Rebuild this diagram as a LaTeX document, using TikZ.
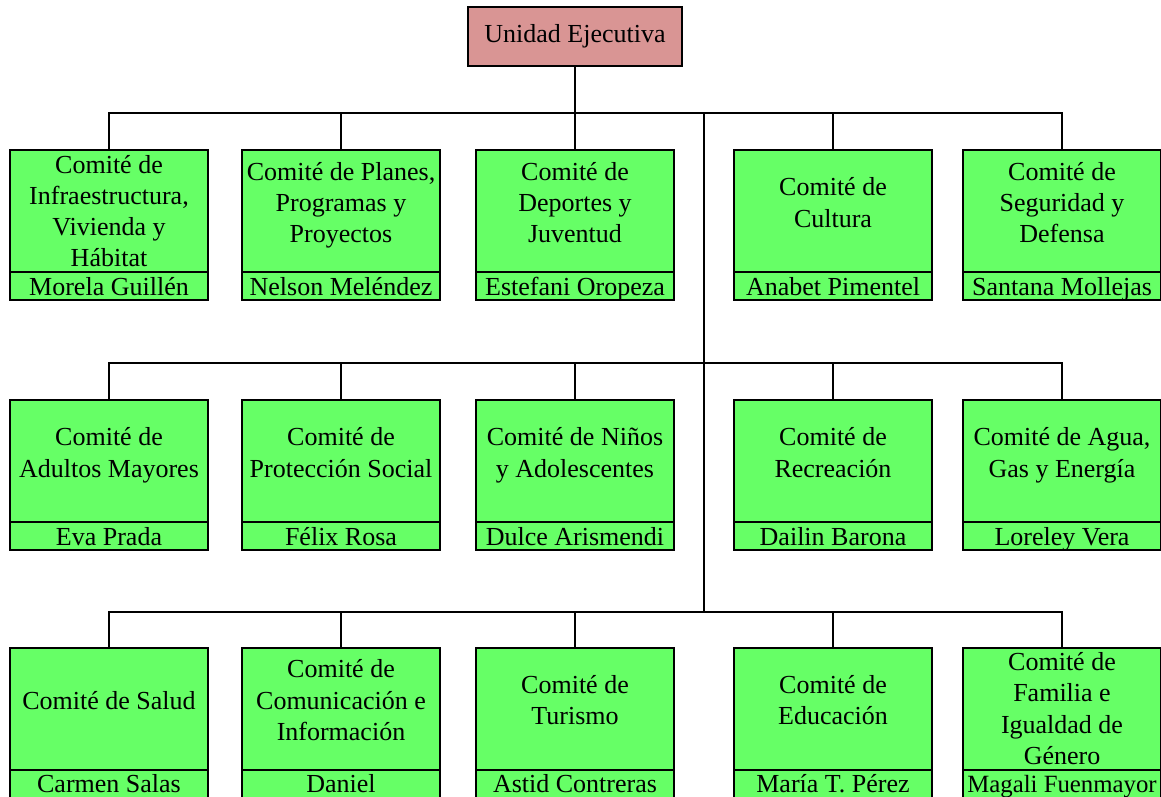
\documentclass[tikz,border=0pt]{standalone}
\usepackage{fontspec}
\setmainfont{Liberation Serif}
\usepackage{tikz}
\usetikzlibrary{positioning}

\definecolor{comite}{RGB}{102,255,102}
\definecolor{unidad}{RGB}{217,149,148}

\tikzset{
  caja/.style={draw, line width=1pt, fill=comite, outer sep=0pt, inner sep=0pt,
    minimum width=99pt, font=\fontsize{13}{15.6}\selectfont},
  titulo/.style={caja, minimum height=61pt, align=center, text depth=8.5pt},
  nombre/.style={caja, minimum height=14pt, text height=11.5pt, text depth=2.5pt},
  linea/.style={line width=0.7pt}
}

\begin{document}
\begin{tikzpicture}[x=0.5pt,y=-0.5pt]

  \useasboundingbox (0,0) rectangle (1161,797);
  \clip (0,0) rectangle (1161,797);

  \node[caja, fill=unidad, minimum width=107pt, minimum height=29.5pt] (ue) at (575,36.5) {Unidad Ejecutiva};

  \node[titulo, text depth=0pt] (c11) at (109,211) {Comité de\\ Infraestructura,\\ Vivienda y\\ Hábitat};
  \node[titulo] (c12) at (341,211) {Comité de Planes,\\ Programas y\\ Proyectos};
  \node[titulo] (c13) at (575,211) {Comité de\\ Deportes y\\ Juventud};
  \node[titulo] (c14) at (833,211) {Comité de\\ Cultura};
  \node[titulo] (c15) at (1062,211) {Comité de\\ Seguridad y\\ Defensa};
  \node[nombre, below=0pt of c11] (n11) {Morela Guillén};
  \node[nombre, below=0pt of c12] (n12) {Nelson Meléndez};
  \node[nombre, below=0pt of c13] (n13) {Estefani Oropeza};
  \node[nombre, below=0pt of c14] (n14) {Anabet Pimentel};
  \node[nombre, below=0pt of c15] (n15) {Santana Mollejas};

  \node[titulo] (c21) at (109,461) {Comité de\\ Adultos Mayores};
  \node[titulo] (c22) at (341,461) {Comité de\\ Protección Social};
  \node[titulo] (c23) at (575,461) {Comité de Niños\\ y Adolescentes};
  \node[titulo] (c24) at (833,461) {Comité de\\ Recreación};
  \node[titulo] (c25) at (1062,461) {Comité de Agua,\\ Gas y Energía};
  \node[nombre, below=0pt of c21] (n21) {Eva Prada};
  \node[nombre, below=0pt of c22] (n22) {Félix Rosa};
  \node[nombre, below=0pt of c23] (n23) {Dulce Arismendi};
  \node[nombre, below=0pt of c24] (n24) {Dailin Barona};
  \node[nombre, below=0pt of c25] (n25) {Loreley Vera};

  \node[titulo] (c31) at (109,708.5) {Comité de Salud};
  \node[titulo] (c32) at (341,708.5) {Comité de\\ Comunicación e\\ Información};
  \node[titulo] (c33) at (575,708.5) {Comité de\\ Turismo};
  \node[titulo] (c34) at (833,708.5) {Comité de\\ Educación};
  \node[titulo, text depth=0pt] (c35) at (1062,708.5) {Comité de\\ Familia e\\ Igualdad de\\ Género};
  \node[nombre, below=0pt of c31] (n31) {Carmen Salas};
  \node[nombre, below=0pt of c32] (n32) {Daniel};
  \node[nombre, below=0pt of c33] (n33) {Astid Contreras};
  \node[nombre, below=0pt of c34] (n34) {María T. Pérez};
  \node[nombre, below=0pt of c35, font=\fontsize{12.4}{14}\selectfont] (n35) {Magali Fuenmayor};

  \coordinate (b1) at (704,113);
  \coordinate (b2) at (704,363);
  \coordinate (b3) at (704,612);

  \draw[linea] (ue) -- (ue |- c13.north);
  \draw[linea] (b1) -- (b3);
  \foreach \r in {1,2,3} {
    \draw[linea] (c\r1.north) |- (b\r) -| (c\r5.north);
    \foreach \c in {2,3,4}
      \draw[linea] (c\r\c.north) -- (c\r\c.north |- b\r);
  }
\end{tikzpicture}
\end{document}
